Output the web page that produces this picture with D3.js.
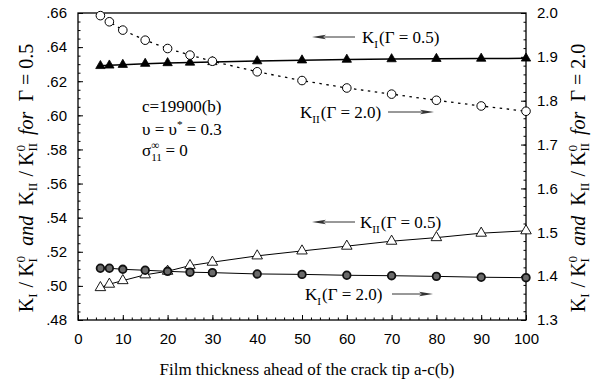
<!DOCTYPE html>
<html>
<head>
<meta charset="utf-8">
<script src="https://cdn.jsdelivr.net/npm/d3@7"></script>
<style>
  html, body { margin: 0; padding: 0; background: #fff; }
  svg { display: block; }
  .serif { font-family: "Liberation Serif", "Times New Roman", serif; }
  .sans { font-family: "Liberation Sans", Arial, Helvetica, sans-serif; }
</style>
</head>
<body>
<svg id="chart" width="591" height="381"></svg>
<script>
// Film thickness ahead of the crack tip, a-c (in units of b)
const thickness = [5, 7, 10, 15, 20, 25, 30, 40, 50, 60, 70, 80, 90, 100];

// Left axis series (Gamma = 0.5)
const kI_gamma05  = [0.6290, 0.6293, 0.6297, 0.6303, 0.6307, 0.6310, 0.6313, 0.6318, 0.6323, 0.6327, 0.6330, 0.6332, 0.6333, 0.6334];
const kII_gamma05 = [0.4990, 0.5010, 0.5031, 0.5065, 0.5086, 0.5119, 0.5139, 0.5176, 0.5205, 0.5233, 0.5262, 0.5283, 0.5309, 0.5323];

// Right axis series (Gamma = 2.0)
const kII_gamma20 = [1.994, 1.980, 1.961, 1.938, 1.919, 1.904, 1.890, 1.866, 1.846, 1.829, 1.815, 1.801, 1.788, 1.776];
const kI_gamma20  = [1.418, 1.418, 1.4156, 1.4134, 1.411, 1.409, 1.408, 1.405, 1.404, 1.402, 1.401, 1.3995, 1.3975, 1.3965];

// Tick values
const xTicks = [0, 10, 20, 30, 40, 50, 60, 70, 80, 90, 100];
const yLeftTicks = [0.48, 0.50, 0.52, 0.54, 0.56, 0.58, 0.60, 0.62, 0.64, 0.66];
const yRightTicks = [1.3, 1.4, 1.5, 1.6, 1.7, 1.8, 1.9, 2.0];

const svg = d3.select("#chart");
const plotL = 78, plotR = 526, plotT = 13, plotB = 320;

const x = d3.scaleLinear().domain([0, 100]).range([plotL, plotR]);
const yL = d3.scaleLinear().domain([0.48, 0.66]).range([plotB, plotT]);
const yR = d3.scaleLinear().domain([1.3, 2.0]).range([plotB, plotT]);

// Frame
svg.append("rect")
  .attr("x", plotL).attr("y", plotT)
  .attr("width", plotR - plotL).attr("height", plotB - plotT)
  .attr("fill", "none").attr("stroke", "#000").attr("stroke-width", 1.3);

function styleAxis(g) {
  g.select(".domain").remove();
  g.selectAll(".tick line").attr("stroke", "#000").attr("stroke-width", 1);
  g.selectAll("text").attr("class", "sans").attr("font-size", 15).attr("fill", "#000");
}

// Bottom axis: major and minor ticks pointing inward
svg.append("g").attr("transform", `translate(0,${plotB})`)
  .call(d3.axisBottom(x).tickValues(xTicks).tickSize(-5).tickSizeOuter(0).tickPadding(13))
  .call(styleAxis);
svg.append("g").attr("transform", `translate(0,${plotB})`)
  .call(d3.axisBottom(x).tickValues(d3.range(0, 101, 2)).tickSize(-2.5).tickSizeOuter(0).tickFormat(""))
  .call(styleAxis);

// Left axis
svg.append("g").attr("transform", `translate(${plotL},0)`)
  .call(d3.axisLeft(yL).tickValues(yLeftTicks).tickSize(-5).tickSizeOuter(0).tickPadding(11)
    .tickFormat(d => d3.format(".2f")(d).replace(/^0/, "")))
  .call(styleAxis);
svg.append("g").attr("transform", `translate(${plotL},0)`)
  .call(d3.axisLeft(yL).tickValues(d3.range(0, 37).map(i => 0.48 + i * 0.005)).tickSize(-2.5).tickSizeOuter(0).tickFormat(""))
  .call(styleAxis);

// Right axis
svg.append("g").attr("transform", `translate(${plotR},0)`)
  .call(d3.axisRight(yR).tickValues(yRightTicks).tickSize(-5).tickSizeOuter(0).tickPadding(11)
    .tickFormat(d3.format(".1f")))
  .call(styleAxis);
svg.append("g").attr("transform", `translate(${plotR},0)`)
  .call(d3.axisRight(yR).tickValues(d3.range(0, 36).map(i => 1.3 + i * 0.02)).tickSize(-2.5).tickSizeOuter(0).tickFormat(""))
  .call(styleAxis);

// Series
const pts = (vals, scale) => thickness.map((t, i) => [x(t), scale(vals[i])]);
const line = d3.line();

svg.append("path").attr("d", line(pts(kI_gamma05, yL)))
  .attr("fill", "none").attr("stroke", "#000").attr("stroke-width", 1.5);
svg.append("path").attr("d", line(pts(kII_gamma05, yL)))
  .attr("fill", "none").attr("stroke", "#000").attr("stroke-width", 1);
svg.append("path").attr("d", line(pts(kI_gamma20, yR)))
  .attr("fill", "none").attr("stroke", "#000").attr("stroke-width", 1);
svg.append("path").attr("d", line(pts(kII_gamma20, yR)))
  .attr("fill", "none").attr("stroke", "#000").attr("stroke-width", 1.3)
  .attr("stroke-dasharray", "2.5,4.5");

const tri = d3.symbol().type(d3.symbolTriangle);
svg.append("g").selectAll("path").data(pts(kI_gamma05, yL)).join("path")
  .attr("transform", d => `translate(${d[0]},${d[1]})`)
  .attr("d", tri.size(38)()).attr("fill", "#000").attr("stroke", "#000").attr("stroke-width", 0.8);

svg.append("g").selectAll("path").data(pts(kII_gamma05, yL)).join("path")
  .attr("transform", d => `translate(${d[0]},${d[1]})`)
  .attr("d", tri.size(48)()).attr("fill", "#fff").attr("stroke", "#000").attr("stroke-width", 0.9);

svg.append("g").selectAll("circle").data(pts(kII_gamma20, yR)).join("circle")
  .attr("cx", d => d[0]).attr("cy", d => d[1]).attr("r", 4.3)
  .attr("fill", "#fff").attr("stroke", "#000").attr("stroke-width", 1);

svg.append("g").selectAll("circle").data(pts(kI_gamma20, yR)).join("circle")
  .attr("cx", d => d[0]).attr("cy", d => d[1]).attr("r", 3.8)
  .attr("fill", "#6a6a6a").attr("stroke", "#111").attr("stroke-width", 1.8);

// Rich text with subscripts, superscripts (stacked) and italics
function rich(textSel, parts, fs, subDrop = 0.3) {
  let off = 0, lastSub = 0;
  parts.forEach(p => {
    const target = p.s === "sub" ? subDrop * fs : p.s === "sup" ? -0.4 * fs : 0;
    const ts = textSel.append("tspan").text(p.t)
      .attr("font-size", p.s ? 0.66 * fs : fs)
      .attr("dy", target - off);
    off = target;
    if (p.i) ts.attr("font-style", "italic");
    let dx = p.dx || 0;
    if (p.stack) dx -= lastSub;
    if (dx) ts.attr("dx", dx);
    if (p.s === "sub") lastSub = ts.node().getComputedTextLength();
  });
}

function axisTitle(cx, cy, gammaText) {
  const fs = 20;
  const t = svg.append("text").attr("class", "serif")
    .attr("transform", `translate(${cx},${cy}) rotate(-90)`)
    .attr("text-anchor", "middle").attr("fill", "#000")
    .style("white-space", "pre");
  rich(t, [
    { t: "K" }, { t: "I", s: "sub" }, { t: " / K", dx: 1 }, { t: "I", s: "sub" }, { t: "0", s: "sup", stack: true },
    { t: "  and  ", i: true },
    { t: "K" }, { t: "II", s: "sub" }, { t: " / K", dx: 1 }, { t: "II", s: "sub" }, { t: "0", s: "sup", stack: true },
    { t: "  for  ", i: true },
    { t: "Γ = " + gammaText }
  ], fs, 0.22);
}
axisTitle(33, 178, "0.5");
axisTitle(585, 178, "2.0");

// X axis title
svg.append("text").attr("class", "serif")
  .attr("x", 307).attr("y", 375).attr("text-anchor", "middle")
  .attr("font-size", 17).attr("fill", "#000")
  .text("Film thickness ahead of the crack tip a-c(b)");

// Parameters
const fsP = 17;
const p1 = svg.append("text").attr("class", "serif").attr("x", 142).attr("y", 112).attr("font-size", fsP).style("white-space", "pre");
p1.text("c=19900(b)");
const p2 = svg.append("text").attr("class", "serif").attr("x", 142).attr("y", 135).style("white-space", "pre");
rich(p2, [{ t: "υ = υ" }, { t: "*", s: "sup" }, { t: " = 0.3" }], fsP);
const p3 = svg.append("text").attr("class", "serif").attr("x", 142).attr("y", 156).style("white-space", "pre");
rich(p3, [{ t: "σ" }, { t: "11", s: "sub" }, { t: "∞", s: "sup", stack: true }, { t: " = 0", dx: 2 }], fsP);

// Arrow annotations
function arrow(x1, y1, x2, y2) {
  const dir = Math.sign(x2 - x1);
  svg.append("line").attr("x1", x1).attr("y1", y1).attr("x2", x2 - dir * 8).attr("y2", y2)
    .attr("stroke", "#333").attr("stroke-width", 1);
  svg.append("path")
    .attr("d", `M${x2},${y2} L${x2 - dir * 14},${y2 - 2.2} L${x2 - dir * 11},${y2} L${x2 - dir * 14},${y2 + 2.2} Z`)
    .attr("fill", "#333");
}
function label(x0, y0, sub, gammaText) {
  const t = svg.append("text").attr("class", "serif").attr("x", x0).attr("y", y0).style("white-space", "pre");
  rich(t, [{ t: "K" }, { t: sub, s: "sub" }, { t: "(Γ = " + gammaText + ")", dx: 1 }], 17);
}

arrow(355, 37, 312, 37);
label(362, 43, "I", "0.5");

label(300, 118, "II", "2.0");
arrow(388, 112, 434, 112);

arrow(355, 222, 312, 222);
label(360, 228, "II", "0.5");

label(305, 300, "I", "2.0");
arrow(392, 294, 433, 294);
</script>
</body>
</html>
